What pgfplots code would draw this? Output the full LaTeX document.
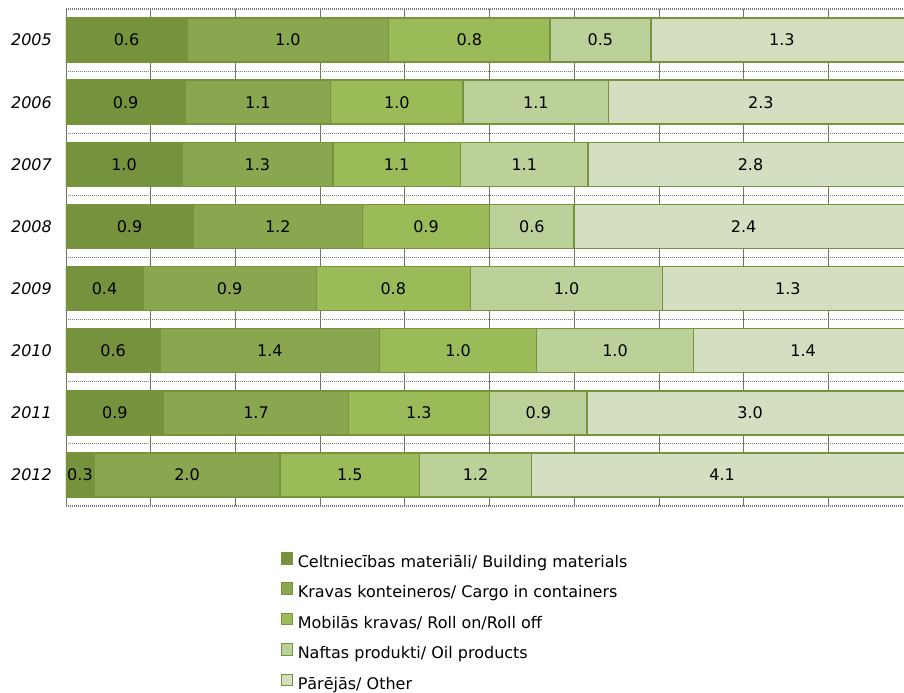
\documentclass[border=0pt]{standalone}
\usepackage{fontspec}
\setmainfont{DejaVu Sans}
\usepackage{pgfplots}
\usepackage{pgfplotstable}
\pgfplotsset{compat=1.18}

\definecolor{cA}{HTML}{76923C}
\definecolor{cB}{HTML}{8AA64F}
\definecolor{cC}{HTML}{9BBB59}
\definecolor{cD}{HTML}{BCD09A}
\definecolor{cE}{HTML}{D3DFC0}
\definecolor{bord}{HTML}{77933C}
\definecolor{gridc}{HTML}{6E785E}
\definecolor{dotc}{HTML}{7A7A7A}

\newcommand\f{\fontsize{16bp}{19bp}\selectfont}

\pgfplotsset{sq/.style={legend image code/.code={\draw[##1,line width=0.8bp] (0bp,-0.5bp) rectangle (11.5bp,11bp);}}}

\pgfplotstableread{
idx a b c d e
0 0.6 1.0 0.8 0.5 1.3
1 0.9 1.1 1.0 1.1 2.3
2 1.0 1.3 1.1 1.1 2.8
3 0.9 1.2 0.9 0.6 2.4
4 0.4 0.9 0.8 1.0 1.3
5 0.6 1.4 1.0 1.0 1.4
6 0.9 1.7 1.3 0.9 3.0
7 0.3 2.0 1.5 1.2 4.1
}\data
\pgfplotstablecreatecol[create col/expr={\thisrow{a}+\thisrow{b}+\thisrow{c}+\thisrow{d}+\thisrow{e}}]{tot}\data
\pgfplotstablecreatecol[create col/expr={100*\thisrow{a}/\thisrow{tot}}]{pa}\data
\pgfplotstablecreatecol[create col/expr={100*\thisrow{b}/\thisrow{tot}}]{pb}\data
\pgfplotstablecreatecol[create col/expr={100*\thisrow{c}/\thisrow{tot}}]{pc}\data
\pgfplotstablecreatecol[create col/expr={100*\thisrow{d}/\thisrow{tot}}]{pd}\data
\pgfplotstablecreatecol[create col/expr={100*\thisrow{e}/\thisrow{tot}}]{pe}\data
\pgfplotstablecreatecol[create col/expr={0.5*\thisrow{pa}}]{ma}\data
\pgfplotstablecreatecol[create col/expr={\thisrow{pa}+0.5*\thisrow{pb}}]{mb}\data
\pgfplotstablecreatecol[create col/expr={\thisrow{pa}+\thisrow{pb}+0.5*\thisrow{pc}}]{mc}\data
\pgfplotstablecreatecol[create col/expr={\thisrow{pa}+\thisrow{pb}+\thisrow{pc}+0.5*\thisrow{pd}}]{md}\data
\pgfplotstablecreatecol[create col/expr={\thisrow{pa}+\thisrow{pb}+\thisrow{pc}+\thisrow{pd}+0.5*\thisrow{pe}}]{me}\data

\begin{document}
\begin{tikzpicture}
\begin{axis}[
  at={(0,0)}, anchor=south west,
  scale only axis, width=847bp, height=497bp,
  xbar stacked, bar width=44bp,
  xmin=0, xmax=100, ymin=-0.5, ymax=7.5, enlargelimits=false,
  y dir=reverse,
  axis lines*=left, axis line style={draw=none},
  xtick={0,10,...,100}, xticklabel=\empty,
  xmajorgrids, major grid style={draw=gridc, line width=0.8bp},
  ytick={0,...,7}, yticklabels={2005,2006,2007,2008,2009,2010,2011,2012},
  y tick label style={font=\f\itshape, inner sep=0pt, xshift=-14bp},
  minor ytick={-0.5,0.5,...,7.5}, yminorgrids, ymajorgrids=false,
  minor grid style={draw=dotc, line width=1.2bp, dash pattern=on 1bp off 1bp},
  major tick length=0pt, minor tick length=0pt,
  legend cell align=left,
  legend style={draw=none, fill=none, at={(axis description cs:0.2538,-0.0926)}, anchor=north west,
    inner sep=0pt, outer sep=0pt, row sep=11bp, font=\f,
    nodes={inner sep=0pt, text height=12bp, text depth=4bp},
    /tikz/every odd column/.append style={column sep=4.5bp}},
]
\addplot[fill=cA, draw=bord, line width=1.5bp, sq] table[x=pa, y=idx]{\data};
\addlegendentry{Celtniecības materiāli/ Building materials}
\addplot[fill=cB, draw=bord, line width=1.5bp, sq] table[x=pb, y=idx]{\data};
\addlegendentry{Kravas konteineros/ Cargo in containers}
\addplot[fill=cC, draw=bord, line width=1.5bp, sq] table[x=pc, y=idx]{\data};
\addlegendentry{Mobilās kravas/ Roll on/Roll off}
\addplot[fill=cD, draw=bord, line width=1.5bp, sq] table[x=pd, y=idx]{\data};
\addlegendentry{Naftas produkti/ Oil products}
\addplot[fill=cE, draw=bord, line width=1.5bp, sq] table[x=pe, y=idx]{\data};
\addlegendentry{Pārējās/ Other}
\end{axis}
\begin{axis}[
  at={(0,0)}, anchor=south west,
  scale only axis, width=847bp, height=497bp,
  xmin=0, xmax=100, ymin=-0.5, ymax=7.5, enlargelimits=false,
  y dir=reverse, hide axis,
  nodes near coords, point meta=explicit symbolic,
  every node near coord/.append style={anchor=center, font=\f, inner sep=0pt, text=black},
]
\addplot[draw=none, mark=none] table[x=ma, y=idx, meta=a]{\data};
\addplot[draw=none, mark=none] table[x=mb, y=idx, meta=b]{\data};
\addplot[draw=none, mark=none] table[x=mc, y=idx, meta=c]{\data};
\addplot[draw=none, mark=none] table[x=md, y=idx, meta=d]{\data};
\addplot[draw=none, mark=none] table[x=me, y=idx, meta=e]{\data};
\end{axis}
\pgfresetboundingbox
\useasboundingbox (-66bp,-187bp) rectangle (838bp,506bp);
\end{tikzpicture}
\end{document}
